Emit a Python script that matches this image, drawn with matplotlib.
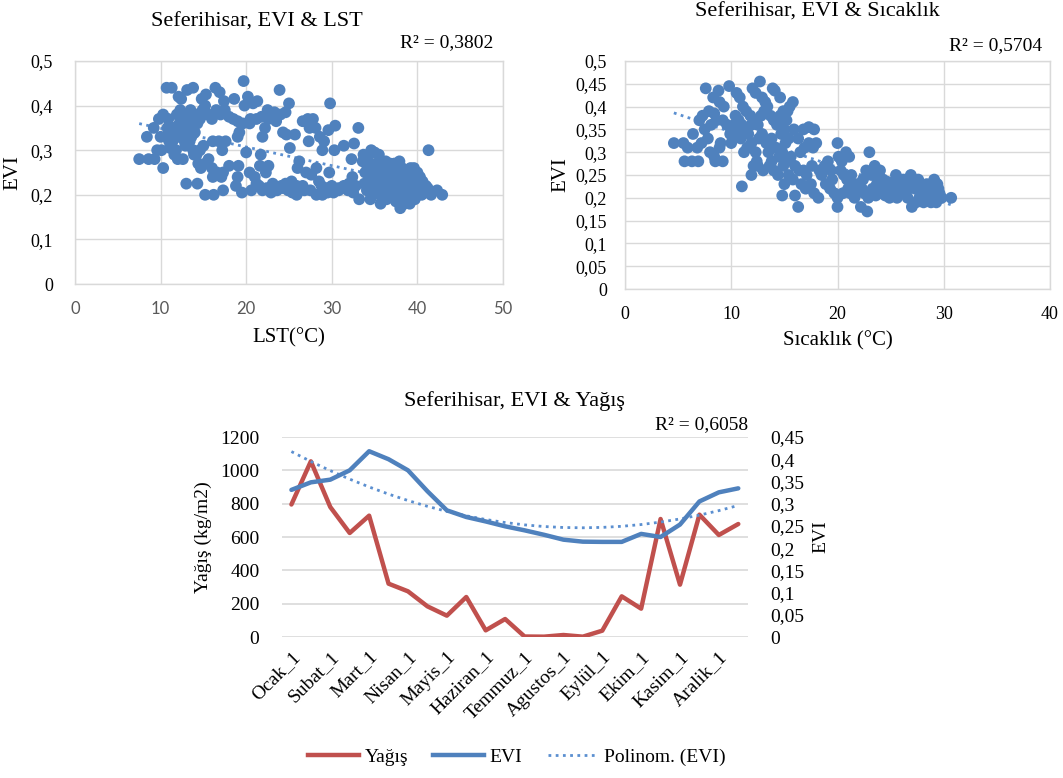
import numpy as np
import matplotlib
matplotlib.use("Agg")
import matplotlib.pyplot as plt
from matplotlib.ticker import FuncFormatter, MultipleLocator
from matplotlib.lines import Line2D

plt.rcParams["font.family"] = ["Liberation Serif", "DejaVu Serif"]

BLUE = "#4F81BD"
RED = "#C0504D"
TREND = "#5B8FD0"
GRID = "#D9D9D9"

# ---------------- EVI vs LST ----------------
lst_pts = [
    (10.7, 0.44), (11.3, 0.44), (12.1, 0.42), (12.4, 0.415), (13.1, 0.435), (13.8, 0.44),
    (14.8, 0.415), (15.3, 0.425), (16.4, 0.44), (16.9, 0.43), (17.4, 0.41), (18.6, 0.415),
    (19.7, 0.455), (20.2, 0.42), (19.8, 0.40), (20.8, 0.405), (21.3, 0.41), (23.9, 0.435),
    (25.0, 0.405), (29.8, 0.405), (22.5, 0.39), (23.3, 0.385), (24.0, 0.38), (24.6, 0.385),
    (21.8, 0.375),
    (7.5, 0.28), (8.6, 0.28), (9.3, 0.28), (10.3, 0.26), (8.4, 0.33), (9.2, 0.35), (9.8, 0.37),
    (10.3, 0.38), (10.9, 0.37), (9.6, 0.30), (10.1, 0.30), (10.6, 0.33), (11.2, 0.34),
    (11.5, 0.35), (11.9, 0.38), (12.3, 0.39), (12.8, 0.38), (13.5, 0.39), (11.8, 0.30),
    (12.0, 0.28), (12.6, 0.28), (11.6, 0.29), (12.8, 0.32), (13.2, 0.35), (13.6, 0.33),
    (14.0, 0.34), (14.3, 0.36), (14.6, 0.37), (15.0, 0.38), (15.2, 0.40), (14.9, 0.39),
    (15.6, 0.38), (16.0, 0.37), (16.5, 0.39), (17.0, 0.38), (17.5, 0.39), (18.0, 0.375),
    (18.5, 0.37), (19.0, 0.365), (19.6, 0.36), (20.4, 0.36), (19.2, 0.34), (19.0, 0.33),
    (12.0, 0.33), (12.4, 0.35), (12.7, 0.36), (13.0, 0.34), (13.4, 0.32), (13.8, 0.30),
    (14.2, 0.29), (13.9, 0.29), (14.6, 0.30), (15.0, 0.31), (14.4, 0.27), (14.7, 0.26),
    (15.2, 0.27), (15.6, 0.28), (16.0, 0.26), (16.6, 0.25), (16.1, 0.32), (16.8, 0.32),
    (17.6, 0.32), (17.2, 0.30), (11.0, 0.32), (11.4, 0.32), (10.8, 0.35), (12.9, 0.31),
    (13.3, 0.37), (14.1, 0.38), (11.1, 0.305), (10.0, 0.33), (12.2, 0.36), (13.7, 0.355),
    (22.6, 0.37), (22.2, 0.35), (21.9, 0.33), (21.2, 0.37), (20.5, 0.37), (23.5, 0.365),
    (24.3, 0.34), (24.7, 0.335), (25.7, 0.335), (25.1, 0.305), (26.6, 0.365), (27.2, 0.37),
    (27.8, 0.37), (27.4, 0.35), (28.1, 0.35), (28.6, 0.33), (29.1, 0.32), (28.9, 0.30),
    (27.3, 0.32), (29.6, 0.345), (30.4, 0.355), (33.1, 0.35), (31.4, 0.31), (32.6, 0.315),
    (30.3, 0.30), (32.3, 0.28), (26.2, 0.275), (26.0, 0.26), (28.2, 0.26), (27.0, 0.25),
    (29.7, 0.25), (28.5, 0.23), (22.6, 0.265), (21.6, 0.265), (21.7, 0.29), (20.0, 0.295),
    (19.1, 0.265), (18.0, 0.265), (19.0, 0.24), (16.1, 0.24), (17.1, 0.24), (17.3, 0.25),
    (18.8, 0.22), (20.4, 0.25), (21.0, 0.24), (21.2, 0.225), (21.5, 0.22), (22.3, 0.25),
    (23.1, 0.225), (24.1, 0.22), (24.6, 0.225), (25.3, 0.23), (25.9, 0.22), (26.4, 0.215),
    (27.6, 0.245), (28.8, 0.22), (29.4, 0.215), (30.0, 0.22), (30.8, 0.215), (31.4, 0.22),
    (32.0, 0.225), (32.4, 0.24), (32.8, 0.22), (31.9, 0.21),
    (13.0, 0.225), (14.3, 0.225), (15.2, 0.20), (16.2, 0.20), (17.3, 0.21), (19.5, 0.205),
    (20.6, 0.21), (21.9, 0.21), (22.4, 0.215), (22.9, 0.205), (23.6, 0.21), (24.3, 0.215),
    (24.9, 0.21), (25.4, 0.205), (25.9, 0.20), (26.8, 0.21), (27.5, 0.21), (28.2, 0.20),
    (28.9, 0.20), (29.5, 0.205), (30.2, 0.205), (30.8, 0.21), (31.5, 0.215), (32.5, 0.205),
    (33.2, 0.19), (34.5, 0.19), (35.7, 0.18), (23.3, 0.21), (26.6, 0.22),
    (33.7, 0.29), (34.2, 0.28), (34.6, 0.30), (35.0, 0.295), (35.5, 0.29), (34.0, 0.27),
    (34.8, 0.26), (35.3, 0.25), (35.8, 0.26), (36.3, 0.275), (36.8, 0.27), (37.3, 0.27),
    (37.9, 0.275), (38.2, 0.26), (38.7, 0.255), (39.2, 0.26), (39.6, 0.26), (40.0, 0.25),
    (40.3, 0.24), (40.6, 0.23), (41.0, 0.22), (34.3, 0.23), (34.7, 0.22), (35.1, 0.21),
    (35.4, 0.23), (35.9, 0.24), (36.2, 0.22), (36.6, 0.21), (36.9, 0.24), (37.1, 0.20),
    (37.4, 0.23), (37.7, 0.22), (37.9, 0.19), (38.1, 0.21), (38.4, 0.24), (38.6, 0.225),
    (38.8, 0.20), (39.0, 0.215), (39.3, 0.235), (39.5, 0.205), (39.7, 0.19), (39.9, 0.225),
    (40.2, 0.21), (40.5, 0.20), (40.8, 0.205), (38.0, 0.17), (38.5, 0.18), (39.1, 0.18),
    (37.5, 0.185), (36.4, 0.19), (35.6, 0.20), (34.1, 0.21), (33.8, 0.225), (36.0, 0.25),
    (37.0, 0.255), (37.6, 0.245), (38.3, 0.235), (38.9, 0.245), (39.4, 0.25), (40.1, 0.235),
    (36.7, 0.23), (35.0, 0.24), (33.9, 0.25), (33.6, 0.275), (41.3, 0.30), (41.6, 0.20),
    (42.3, 0.21), (42.9, 0.20), (41.2, 0.215), (39.8, 0.24), (38.7, 0.23), (37.2, 0.215),
    (36.5, 0.245), (35.2, 0.27),
]
lst_x = [p[0] for p in lst_pts]
lst_evi = [p[1] for p in lst_pts]
lst_r2 = "R² = 0,3802"

# ---------------- EVI vs air temperature ----------------
temp_pts = [
    (4.6, 0.32), (5.5, 0.32), (5.9, 0.31), (5.6, 0.28), (6.3, 0.28), (6.9, 0.28), (6.4, 0.34),
    (6.8, 0.31), (7.0, 0.37), (7.3, 0.38), (7.6, 0.44), (8.8, 0.435), (8.3, 0.42), (8.9, 0.41),
    (9.8, 0.445), (9.3, 0.40), (8.0, 0.30), (8.4, 0.29), (9.2, 0.28), (8.5, 0.28), (8.9, 0.31),
    (9.0, 0.32), (7.8, 0.33), (7.5, 0.35), (8.1, 0.36), (8.6, 0.37), (9.2, 0.37), (9.6, 0.36),
    (10.0, 0.35), (10.2, 0.33), (10.0, 0.32), (7.2, 0.32), (7.9, 0.39), (8.4, 0.385),
    (10.5, 0.43), (10.8, 0.42), (11.1, 0.40), (11.4, 0.39), (11.8, 0.38), (10.4, 0.38),
    (10.7, 0.37), (11.0, 0.36), (11.3, 0.35), (11.6, 0.34), (11.9, 0.36), (12.2, 0.37),
    (12.5, 0.36), (12.8, 0.38), (13.1, 0.39), (13.4, 0.40), (13.7, 0.38), (14.0, 0.37),
    (14.3, 0.36), (14.6, 0.38), (14.9, 0.39), (15.2, 0.37), (15.5, 0.40), (15.8, 0.41),
    (15.3, 0.39), (12.7, 0.455), (12.0, 0.44), (12.3, 0.43), (12.9, 0.42), (13.9, 0.44),
    (14.1, 0.435), (14.6, 0.42), (13.2, 0.41), (11.2, 0.30), (11.5, 0.31), (11.9, 0.32),
    (12.3, 0.30), (12.6, 0.33), (12.9, 0.34), (13.3, 0.32), (13.5, 0.30), (13.8, 0.33),
    (14.2, 0.31), (14.5, 0.29), (14.8, 0.30), (15.1, 0.32), (15.4, 0.33), (15.0, 0.35),
    (14.7, 0.34), (12.1, 0.27), (12.5, 0.27), (11.9, 0.25), (13.0, 0.26), (13.6, 0.27),
    (14.0, 0.26), (14.4, 0.25), (13.8, 0.28), (12.4, 0.28), (11.0, 0.225), (10.9, 0.33),
    (10.5, 0.34), (10.3, 0.36), (9.9, 0.34),
    (15.9, 0.35), (16.3, 0.33), (16.8, 0.35), (17.3, 0.355), (17.8, 0.35), (16.5, 0.30),
    (16.9, 0.31), (17.3, 0.32), (17.7, 0.31), (18.0, 0.32), (16.0, 0.27), (16.4, 0.26),
    (16.8, 0.26), (17.1, 0.25), (15.8, 0.24), (15.4, 0.25), (15.0, 0.23), (14.8, 0.205),
    (16.0, 0.205), (16.3, 0.18), (17.0, 0.22), (17.5, 0.23), (17.8, 0.21), (18.2, 0.20),
    (18.5, 0.25), (18.8, 0.27), (19.1, 0.28), (19.4, 0.26), (18.9, 0.23), (19.3, 0.22),
    (19.7, 0.21), (19.5, 0.24), (18.3, 0.26), (17.6, 0.27), (16.6, 0.23), (15.6, 0.29),
    (15.2, 0.28), (14.9, 0.27),
    (20.0, 0.32), (20.1, 0.29), (20.4, 0.28), (20.8, 0.30), (21.1, 0.29), (20.3, 0.26),
    (20.6, 0.25), (20.9, 0.24), (21.3, 0.25), (21.5, 0.23), (21.0, 0.22), (20.5, 0.21),
    (20.0, 0.20), (20.0, 0.18), (21.6, 0.20), (22.0, 0.215), (22.2, 0.18), (22.8, 0.17),
    (22.4, 0.24), (22.7, 0.26), (23.0, 0.30), (23.2, 0.25), (23.5, 0.27), (23.7, 0.23),
    (23.9, 0.21), (24.0, 0.26), (24.3, 0.24), (24.6, 0.22), (24.9, 0.20), (25.2, 0.23),
    (25.5, 0.25), (25.8, 0.24), (26.0, 0.22), (26.3, 0.21), (26.6, 0.20), (26.9, 0.25),
    (27.1, 0.23), (27.0, 0.18), (27.3, 0.22), (27.6, 0.24), (27.9, 0.21), (28.1, 0.19),
    (28.4, 0.23), (28.6, 0.20), (28.9, 0.22), (29.1, 0.24), (29.4, 0.23), (29.6, 0.21),
    (29.8, 0.20), (30.7, 0.20), (29.3, 0.19), (28.8, 0.19), (28.3, 0.21), (27.7, 0.20),
    (27.4, 0.19), (26.7, 0.22), (26.2, 0.24), (25.6, 0.20), (25.0, 0.21), (24.5, 0.205),
    (24.1, 0.22), (23.6, 0.205), (23.3, 0.22), (22.9, 0.20), (22.5, 0.21), (21.9, 0.23),
    (21.2, 0.21), (29.5, 0.22), (29.0, 0.21), (28.5, 0.22), (27.8, 0.22), (26.4, 0.23),
    (25.3, 0.22), (24.7, 0.235), (23.8, 0.25), (22.3, 0.22),
]
temp_x = [p[0] for p in temp_pts]
temp_evi = [p[1] for p in temp_pts]
temp_r2 = "R² = 0,5704"

# ---------------- Monthly precipitation & EVI ----------------
months = ["Ocak_1", "Subat_1", "Mart_1", "Nisan_1", "Mayis_1", "Haziran_1",
          "Temmuz_1", "Agustos_1", "Eylül_1", "Ekim_1", "Kasim_1", "Aralik_1"]
rain = [795, 1054, 780, 624, 728, 320, 274, 184, 128, 240, 40, 108,
        3, 2, 12, 2, 38, 244, 170, 708, 314, 734, 612, 678]
evi = [0.331, 0.348, 0.354, 0.375, 0.418, 0.400, 0.375, 0.328, 0.285, 0.270, 0.260, 0.249,
       0.240, 0.230, 0.219, 0.2145, 0.214, 0.214, 0.232, 0.225, 0.253, 0.305, 0.3255, 0.3345]
rain_r2 = "R² = 0,6058"


def comma(v, _pos=None):
    return f"{v:g}".replace(".", ",")


W, H = 1063, 778
fig = plt.figure(figsize=(W / 100, H / 100), dpi=100)


def box(l, t, r, b):
    return [l / W, 1 - b / H, (r - l) / W, (b - t) / H]


def style_scatter(ax):
    for s in ax.spines.values():
        s.set_color(GRID)
        s.set_linewidth(1.0)
    ax.grid(True, color=GRID, lw=1.0)
    ax.set_axisbelow(True)
    ax.tick_params(length=0)
    ax.yaxis.set_major_formatter(FuncFormatter(comma))


DOT = (0, (1, 1.6))
MS = 72

# Scatter: EVI vs LST
ax1 = fig.add_axes(box(75, 61, 503, 284))
x = np.array(lst_x)
y = np.array(lst_evi)
c1 = np.polyfit(x, y, 1)
xs = np.linspace(x.min(), x.max(), 100)
ax1.plot(xs, np.polyval(c1, xs), color=TREND, lw=2, ls=DOT, zorder=2)
ax1.scatter(x, y, s=MS, color=BLUE, edgecolors="none", zorder=3)
ax1.set_xlim(0, 50)
ax1.set_ylim(0, 0.5)
ax1.xaxis.set_major_locator(MultipleLocator(10))
ax1.yaxis.set_major_locator(MultipleLocator(0.1))
style_scatter(ax1)
ax1.tick_params(axis="y", labelsize=13, pad=16)
ax1.tick_params(axis="x", labelsize=12, pad=12, labelcolor="#595959")
for lab in ax1.get_xticklabels():
    lab.set_family(["Lato", "DejaVu Sans"])
ax1.set_xlabel("LST(°C)", fontsize=15, labelpad=8)
ax1.set_ylabel("EVI", fontsize=15, labelpad=6)
fig.text(257 / W, 1 - 22 / H, "Seferihisar, EVI & LST", ha="center", va="center", fontsize=16)
fig.text(493 / W, 1 - 43 / H, lst_r2, ha="right", va="center", fontsize=14)

# Scatter: EVI vs temperature
ax2 = fig.add_axes(box(625, 61, 1050, 289))
x = np.array(temp_x)
y = np.array(temp_evi)
c2 = np.polyfit(x, y, 1)
xs = np.linspace(x.min(), x.max(), 100)
ax2.plot(xs, np.polyval(c2, xs), color=TREND, lw=2, ls=DOT, zorder=2)
ax2.scatter(x, y, s=MS, color=BLUE, edgecolors="none", zorder=3)
ax2.set_xlim(0, 40)
ax2.set_ylim(0, 0.5)
ax2.xaxis.set_major_locator(MultipleLocator(10))
ax2.yaxis.set_major_locator(MultipleLocator(0.05))
style_scatter(ax2)
ax2.tick_params(axis="both", labelsize=13)
ax2.tick_params(axis="y", pad=13)
ax2.tick_params(axis="x", pad=12)
ax2.set_xlabel("Sıcaklık (°C)", fontsize=15, labelpad=6)
ax2.set_ylabel("EVI", fontsize=15, labelpad=4)
fig.text(817 / W, 1 - 12 / H, "Seferihisar, EVI & Sıcaklık", ha="center", va="center", fontsize=16)
fig.text(1042 / W, 1 - 46 / H, temp_r2, ha="right", va="center", fontsize=14)

# Line chart: precipitation (left) and EVI (right)
ax3 = fig.add_axes(box(281.7, 437, 748, 637))
idx = np.arange(len(rain))
ax3.plot(idx, rain, color=RED, lw=3.2, solid_capstyle="round", zorder=3)
ax3.set_xlim(-0.5, len(rain) - 0.5)
ax3.set_ylim(0, 1200)
ax3.yaxis.set_major_locator(MultipleLocator(200))
ax3.grid(True, axis="y", color=GRID, lw=1.2)
ax3.set_axisbelow(True)
for s in ax3.spines.values():
    s.set_visible(False)
ax3.set_xticks(idx[::2])
ax3.set_xticklabels(months, rotation=45, ha="right", rotation_mode="anchor", fontsize=14)
ax3.tick_params(length=0)
ax3.tick_params(axis="x", pad=8)
ax3.tick_params(axis="y", labelsize=14, pad=16)
ax3.set_ylabel("Yağış (kg/m2)", fontsize=14, labelpad=6)

ax4 = ax3.twinx()
c3 = np.polyfit(idx, evi, 2)
ax4.plot(idx, np.polyval(c3, idx), color=TREND, lw=2, ls=DOT, zorder=2)
ax4.plot(idx, evi, color=BLUE, lw=3.2, solid_capstyle="round", zorder=3)
ax4.set_ylim(0, 0.45)
ax4.yaxis.set_major_locator(MultipleLocator(0.05))
ax4.yaxis.set_major_formatter(FuncFormatter(comma))
for s in ax4.spines.values():
    s.set_visible(False)
ax4.tick_params(length=0, labelsize=14, pad=16)
ax4.set_ylabel("EVI", fontsize=14, labelpad=6)
fig.text(514 / W, 1 - 401 / H, "Seferihisar, EVI & Yağış", ha="center", va="center", fontsize=16)
fig.text(748 / W, 1 - 425 / H, rain_r2, ha="right", va="center", fontsize=14)

handles = [
    Line2D([], [], color=RED, lw=3.2),
    Line2D([], [], color=BLUE, lw=3.2),
    Line2D([], [], color=TREND, lw=2, ls=DOT),
]
fig.legend(handles, ["Yağış", "EVI", "Polinom. (EVI)"], loc="center",
           bbox_to_anchor=(517 / W, 1 - 757 / H), ncol=3, frameon=False,
           fontsize=14, handlelength=2.6, columnspacing=1.3, handletextpad=0.3)

fig.savefig("out.png", dpi=100)
